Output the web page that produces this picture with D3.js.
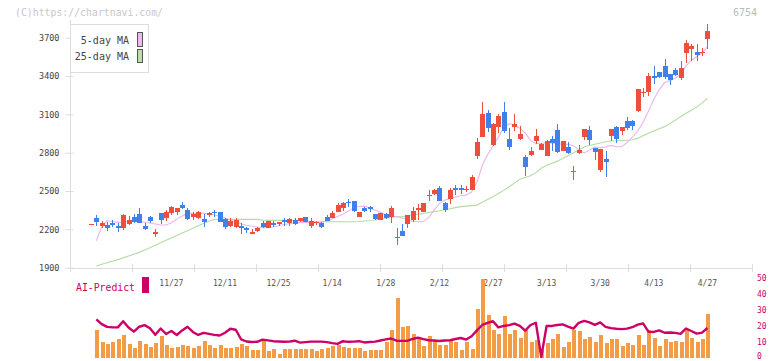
<!DOCTYPE html>
<html><head><meta charset="utf-8">
<script src="https://cdn.jsdelivr.net/npm/d3@7"></script>
<style>body{margin:0;background:#fff}svg{display:block}text{font-family:"DejaVu Sans Mono",monospace}</style>
</head><body><svg id="c" width="772" height="361"></svg>
<script>
const dateLabels = ["11/27","12/11","12/25","1/14","1/28","2/12","2/27","3/13","3/30","4/13","4/27"];
const labelIndex = [15,25,35,45,55,65,75,85,95,105,115];
const priceTicks = [1900,2200,2500,2800,3100,3400,3700];
const aiTicks = [0,10,20,30,40,50];

const open = [2236,2291,2228,2232,2252,2228,2213,2244,2296,2320,
2226,2294,2161,2328,2286,2325,2333,2387,2351,2294,
2286,2281,2312,2338,2333,2281,2226,2221,2228,2213,
2164,2190,2252,2208,2252,2239,2273,2247,2273,2265,
2299,2229,2247,2252,2299,2291,2338,2369,2416,2421,
2299,2369,2372,2317,2273,2317,2299,2135,2187,2239,
2273,2351,2333,2469,2476,2521,2403,2437,2521,2521,
2508,2508,2773,2925,3112,2860,3000,3115,2904,3003,
2904,2768,2781,2893,2825,2773,2904,2977,2810,2846,
2651,2799,2920,2977,2838,2664,2750,2932,3003,2971,
3047,3047,3128,3268,3276,3399,3433,3477,3415,3446,
3381,3581,3610,3589,3584,3688];
const high = [2242,2312,2265,2260,2273,2250,2318,2304,2320,2367,
2247,2302,2200,2328,2351,2385,2367,2411,2369,2333,
2340,2320,2335,2351,2335,2291,2286,2291,2247,2221,
2200,2216,2265,2265,2265,2260,2286,2291,2286,2291,
2299,2286,2268,2260,2312,2343,2403,2411,2437,2421,
2338,2377,2385,2320,2330,2325,2382,2208,2239,2312,
2377,2395,2403,2508,2515,2539,2416,2521,2547,2547,
2539,2625,2917,3198,3133,3034,3102,3198,2990,3102,
3008,2781,2843,2982,2875,2900,2930,3024,2890,2885,
2695,2860,2982,3008,2838,2830,2812,2985,3008,3003,
3081,3055,3297,3307,3425,3477,3433,3532,3415,3459,
3519,3681,3649,3649,3620,3805];
const low = [2236,2228,2208,2190,2216,2177,2195,2234,2247,2247,
2195,2252,2143,2242,2268,2312,2312,2356,2273,2273,
2283,2221,2299,2299,2255,2203,2216,2213,2161,2169,
2164,2177,2208,2208,2221,2229,2229,2229,2234,2260,
2255,2208,2234,2208,2268,2286,2333,2346,2377,2338,
2299,2338,2338,2275,2270,2283,2247,2077,2148,2208,
2260,2273,2333,2421,2469,2421,2338,2396,2469,2476,
2490,2508,2750,2925,2963,2851,2956,2956,2820,2971,
2900,2617,2773,2867,2820,2773,2815,2799,2810,2789,
2586,2789,2900,2860,2742,2651,2607,2893,2873,2938,
2977,2977,3120,3237,3243,3334,3386,3373,3329,3399,
3368,3503,3519,3519,3558,3608];
const close = [2242,2260,2247,2210,2232,2213,2314,2273,2260,2252,
2203,2263,2182,2273,2335,2377,2367,2369,2281,2320,
2338,2260,2325,2325,2260,2216,2268,2273,2213,2197,
2182,2208,2221,2265,2234,2255,2255,2278,2239,2291,
2255,2265,2260,2216,2268,2330,2390,2403,2408,2343,
2338,2346,2359,2278,2325,2286,2369,2143,2148,2312,
2343,2369,2403,2461,2508,2421,2351,2508,2508,2508,
2516,2607,2885,3102,2995,3024,3086,2971,2846,3024,
2945,2690,2812,2930,2867,2893,2877,2802,2890,2799,
2656,2825,2982,2899,2807,2830,2729,2985,2904,3003,
2997,3011,3297,3276,3399,3381,3394,3394,3368,3407,
3464,3662,3636,3563,3592,3750];

const ma5 = [null,
2111,2221,2267,2261,2255,2256,2262,2267,2261,2256,
2250,2242,2234,2234,2252,2280,2304,2325,2325,2325,
2325,2320,2313,2303,2291,2274,2257,2244,2232,2225,
2219,2214,2215,2219,2228,2238,2245,2252,2254,2255,
2254,2253,2255,2268,2282,2300,2318,2343,2370,2379,
2382,2368,2351,2333,2315,2304,2300,2289,2275,2264,
2260,2261,2292,2351,2402,2429,2441,2454,2463,2468,
2492,2569,2700,2785,2854,2920,2996,3027,3017,2992,
2953,2896,2871,2874,2877,2876,2869,2866,2865,2855,
2823,2798,2820,2845,2840,2845,2857,2846,2846,2880,
2921,2969,3039,3125,3218,3292,3349,3365,3383,3414,
3478,3522,3553,3580,3628];
const ma25 = [null,
1914,1927,1938,1951,1963,1977,1991,2006,2020,2038,
2057,2075,2095,2114,2133,2152,2171,2190,2209,2228,
2246,2264,2277,2278,2278,2278,2278,2278,2278,2278,
2278,2271,2270,2270,2270,2270,2270,2270,2270,2260,
2260,2260,2260,2260,2260,2260,2260,2260,2260,2262,
2266,2269,2273,2281,2289,2296,2299,2299,2302,2310,
2318,2325,2332,2339,2346,2354,2362,2370,2378,2382,
2386,2390,2412,2433,2455,2480,2505,2533,2562,2593,
2606,2619,2644,2678,2701,2717,2734,2754,2776,2799,
2821,2844,2856,2866,2876,2886,2892,2893,2895,2897,
2899,2914,2933,2952,2970,2987,3004,3027,3054,3082,
3108,3132,3157,3190,3224];
const volume = [null,
17.4,9.9,8.6,9.9,11.8,14.3,8.6,6.1,10.5,8.6,
6.7,9.2,13.6,8.0,6.1,6.7,8.0,7.3,6.1,7.3,
10.5,8.0,6.1,8.0,6.1,6.1,6.7,8.6,7.3,4.8,
4.8,10.5,4.4,5.5,2.2,5.5,5.5,5.5,5.5,5.5,
5.5,4.2,5.5,6.1,7.3,8.0,6.7,6.1,6.1,6.1,
4.2,4.8,4.8,4.8,9.9,17.4,37.6,19.5,20.1,15.1,
12.6,7.6,13.9,10.7,8.2,8.2,11.3,10.1,5.0,10.1,
5.5,30.7,49.4,27.0,17.2,14.7,26.5,14.7,17.2,12.2,
17.2,9.6,10.9,5.0,9.0,11.5,15.0,6.5,10.0,17.5,
17.0,11.5,13.0,10.0,14.0,9.0,11.5,11.5,7.6,9.0,
8.2,14.0,8.2,17.5,12.6,7.6,11.5,10.0,10.5,10.0,
17.5,12.6,10.0,11.5,27.7];
const aiPredict = [null,
24.2,21.1,19.4,19.1,19.1,23.0,19.0,16.4,19.5,20.5,
18.5,14.4,18.4,14.9,16.8,14.3,17.2,19.5,16.2,14.3,
15.6,15.0,14.4,14.0,15.7,18.2,17.6,11.6,10.2,9.9,
10.0,11.4,10.9,10.4,10.2,10.0,10.1,10.7,9.5,9.8,
10.1,10.1,10.1,9.8,9.2,8.7,10.4,10.0,10.1,10.4,
9.6,9.9,10.1,10.8,11.5,12.1,10.7,10.6,10.6,11.8,
12.6,11.7,11.0,10.8,10.5,10.8,11.0,11.8,12.4,11.4,
13.5,17.2,20.6,21.9,23.0,19.1,20.0,20.5,21.5,20.1,
17.1,20.6,22.0,0.5,20.0,20.0,20.6,21.0,19.6,18.3,
22.0,23.2,22.2,20.7,22.2,19.4,18.6,18.2,18.0,18.3,
19.2,20.8,21.6,16.4,16.2,17.2,15.7,15.9,15.6,15.0,
18.4,16.8,15.2,15.8,18.7];

const RED = "#f04e3c", BLUE = "#4080ea";
const svg = d3.select("#c");
svg.append("rect").attr("width",772).attr("height",361).attr("fill","#fff");

const n = close.length;
const x = d3.scaleLinear().domain([0, n-1]).range([91, 707.4]);
const y = d3.scaleLinear().domain([1900, 3700]).range([267.7, 37.7]);
const yb = d3.scaleLinear().domain([0, 50]).range([357.7, 278.3]);
const grid = d3.scaleLinear().domain([0, 11]).range([70, 752]);

// watermark
svg.append("text").attr("x",15).attr("y",15.5).attr("font-size",10).attr("fill","#c8c8c8")
  .attr("textLength",148).attr("lengthAdjust","spacingAndGlyphs").text("(C)https://chartnavi.com/");
svg.append("text").attr("x",757).attr("y",15.5).attr("font-size",10).attr("fill","#bbb")
  .attr("text-anchor","end").text("6754");

// axes
svg.append("line").attr("x1",70.5).attr("x2",70.5).attr("y1",20).attr("y2",268).attr("stroke","#ddd");
svg.append("line").attr("x1",70).attr("x2",752).attr("y1",268.5).attr("y2",268.5).attr("stroke","#ddd");
const ya = svg.append("g").attr("transform","translate(70.5,0)")
  .call(d3.axisLeft(y).tickValues(priceTicks).tickSize(5).tickPadding(6).tickFormat(d3.format("d")));
ya.select(".domain").remove();
ya.selectAll(".tick line").attr("x1",3).attr("stroke","#ddd");
ya.selectAll(".tick text").attr("font-family","DejaVu Sans Mono").attr("font-size",8.5).attr("fill","#444");
svg.append("g").selectAll("line").data(d3.range(0,12)).join("line")
  .attr("x1",d=>Math.round(grid(d))+0.5).attr("x2",d=>Math.round(grid(d))+0.5)
  .attr("y1",264).attr("y2",272).attr("stroke","#ddd");
svg.append("g").selectAll("text").data(labelIndex).join("text")
  .attr("x",d=>x(d)).attr("y",285.5).attr("text-anchor","middle").attr("font-size",8).attr("fill","#555")
  .text((d,i)=>dateLabels[i]);

// moving averages
const idx = d3.range(n);
const mkLine = arr => d3.line().defined(i=>arr[i]!=null).x(i=>x(i)).y(i=>y(arr[i]));
svg.append("path").attr("d",mkLine(ma25)(idx)).attr("fill","none").attr("stroke","#b4dca4").attr("stroke-width",1.1);
svg.append("path").attr("d",mkLine(ma5)(idx)).attr("fill","none").attr("stroke","#ecb4ec").attr("stroke-width",1.1);

// candles
const cg = svg.append("g").attr("shape-rendering","crispEdges");
idx.forEach(i=>{
  const col = close[i] >= open[i] ? RED : BLUE;
  const cx = Math.round(x(i));
  cg.append("rect").attr("x",cx).attr("width",1).attr("y",y(high[i])).attr("height",Math.max(1,y(low[i])-y(high[i]))).attr("fill",col);
  const top = y(Math.max(open[i],close[i])), bot = y(Math.min(open[i],close[i]));
  cg.append("rect").attr("x",cx-2).attr("width",5).attr("y",top).attr("height",Math.max(1.2,bot-top)).attr("fill",col);
});

// volume + AI predict
const vg = svg.append("g").attr("shape-rendering","crispEdges");
vg.selectAll("rect").data(idx.filter(i=>volume[i]!=null)).join("rect")
  .attr("x",i=>Math.round(x(i))-1.5).attr("width",4)
  .attr("y",i=>yb(volume[i])).attr("height",i=>yb(0)-yb(volume[i])).attr("fill","#f39b45");
svg.append("path").attr("d",d3.line().defined(i=>aiPredict[i]!=null).x(i=>x(i)).y(i=>yb(aiPredict[i]))(idx))
  .attr("fill","none").attr("stroke","#cc0066").attr("stroke-width",2.4).attr("stroke-linejoin","round");
svg.append("g").selectAll("text").data(aiTicks).join("text")
  .attr("x",757).attr("y",d=>Math.min(yb(d)+3, 359)).attr("font-size",8).attr("fill","#cc0066").text(d=>d);
svg.append("text").attr("x",76).attr("y",290.5).attr("font-size",10).attr("fill","#cc0066")
  .attr("textLength",59).attr("lengthAdjust","spacingAndGlyphs").text("AI-Predict");
svg.append("rect").attr("x",142).attr("y",277).attr("width",7).attr("height",16).attr("fill","#cc0066");

// legend
const lg = svg.append("g");
lg.append("rect").attr("x",70.5).attr("y",24.5).attr("width",78).attr("height",48).attr("fill","#fff").attr("stroke","#ddd");
lg.append("text").attr("x",129).attr("y",43.5).attr("text-anchor","end").attr("font-size",10).attr("fill","#444").text("5-day MA");
lg.append("text").attr("x",129).attr("y",60).attr("text-anchor","end").attr("font-size",10).attr("fill","#444").text("25-day MA");
lg.append("rect").attr("x",137.5).attr("y",32.5).attr("width",5).attr("height",14).attr("fill","#f0b8f0").attr("stroke","#555");
lg.append("rect").attr("x",137.5).attr("y",49.5).attr("width",5).attr("height",13).attr("fill","#b8e0a8").attr("stroke","#555");
</script></body></html>
